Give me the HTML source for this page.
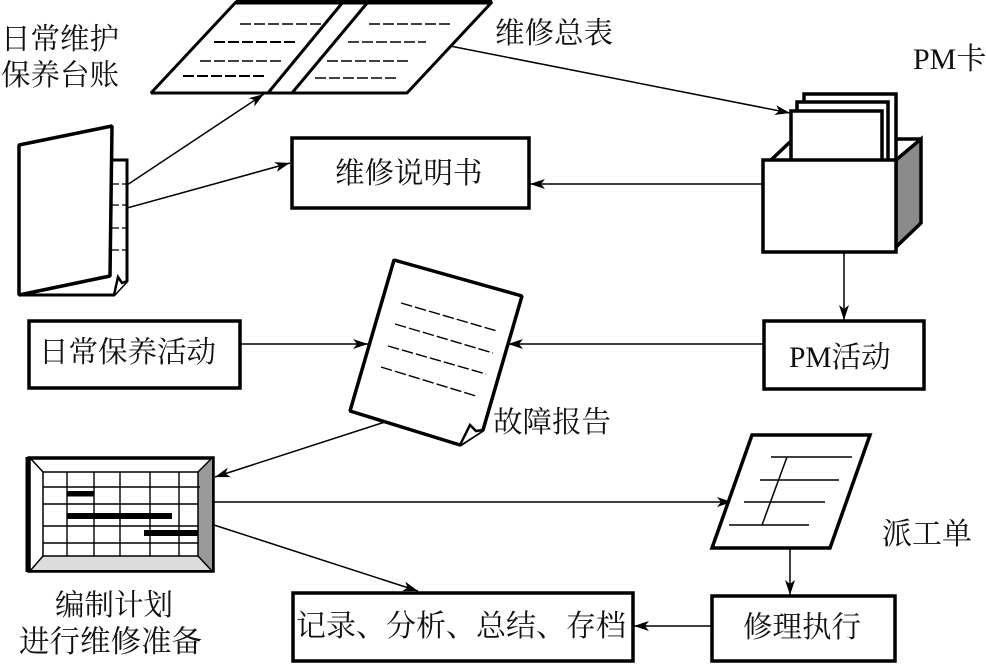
<!DOCTYPE html>
<html><head><meta charset="utf-8">
<style>
html,body{margin:0;padding:0;background:#fff;width:986px;height:664px;overflow:hidden}
svg{display:block}
text{font-family:"Liberation Serif","Noto Serif CJK SC",serif;font-size:29.5px;fill:#111}
</style></head><body>
<svg width="986" height="664" viewBox="0 0 986 664" xmlns="http://www.w3.org/2000/svg">
<defs>
<marker id="a" markerUnits="userSpaceOnUse" markerWidth="24" markerHeight="14" refX="20" refY="7" orient="auto" overflow="visible">
<path d="M20,7 L5,2 L9,7 L5,12 Z" fill="#000"/>
</marker>
</defs>
<rect width="986" height="664" fill="#fff"/>

<!-- connectors -->
<g stroke="#000" stroke-width="1.5" fill="none" marker-end="url(#a)">
<line x1="127" y1="185" x2="264" y2="94"/>
<line x1="127" y1="208" x2="290" y2="163"/>
<line x1="763" y1="184" x2="530" y2="184"/>
<line x1="450" y1="46" x2="790" y2="113"/>
<line x1="844" y1="252" x2="844" y2="320"/>
<line x1="240" y1="344" x2="368" y2="344"/>
<line x1="763" y1="344" x2="508" y2="344"/>
<line x1="385" y1="422" x2="215" y2="477"/>
<line x1="214" y1="502" x2="732" y2="502"/>
<line x1="214" y1="525" x2="418" y2="591"/>
<line x1="790" y1="548" x2="790" y2="595"/>
<line x1="712" y1="626" x2="634" y2="626"/>
</g>

<!-- ledger -->
<path d="M236,2 H492 L407,93 H151 Z" fill="#fff" stroke="#000" stroke-width="3" stroke-linejoin="bevel"/>
<path d="M236,2 H492" stroke="#000" stroke-width="5" fill="none"/>
<path d="M343,2 L268,93 M368,2 L292,93" stroke="#000" stroke-width="3" fill="none"/>
<g stroke="#000" stroke-width="1.4" stroke-dasharray="11 3" fill="none">
<path d="M240,24 H321 M200,61 H281 M369,24 H450 M348,42 H426 M327,61 H408 M315,78 H396"/>
</g>
<path d="M214,42 H295 M183,76 H264" stroke="#000" stroke-width="2" stroke-dasharray="11 3" fill="none"/>

<!-- folder -->
<path d="M112,160 H127 V281 L114,295 H19" fill="#fff" stroke="#000" stroke-width="3"/>
<path d="M19,145 L112,126 L110,276 L19,295 Z" fill="#fff" stroke="#000" stroke-width="3.5" stroke-linejoin="bevel"/>
<path d="M114,295 L118,277 L122,283 L127,281" fill="#fff" stroke="#000" stroke-width="2.5"/>
<path d="M112,184 H127 M112,205 H127 M112,228 H127 M112,250 H127" stroke="#000" stroke-width="1.2" stroke-dasharray="7 3" fill="none"/>

<!-- boxes -->
<g fill="#fff" stroke="#000" stroke-width="3.5">
<rect x="292" y="138" width="237" height="70"/>
<rect x="29" y="321" width="211" height="67"/>
<rect x="764" y="321" width="160" height="68"/>
<rect x="293" y="593" width="340" height="68"/>
<rect x="712" y="596" width="183" height="65"/>
</g>

<!-- PM box -->
<path d="M771,160 L790,142 M896,139 H921" stroke="#000" stroke-width="3.5" fill="none"/>
<rect x="804" y="94" width="92" height="70" fill="#fff" stroke="#000" stroke-width="3.5"/>
<rect x="797" y="102" width="91" height="62" fill="#fff" stroke="#000" stroke-width="3.5"/>
<rect x="791" y="111" width="91" height="53" fill="#fff" stroke="#000" stroke-width="3.5"/>
<path d="M896,160 L921,139 V223 L896,247 Z" fill="#8a8a8a" stroke="#000" stroke-width="3.5"/>
<rect x="763" y="160" width="133" height="92" fill="#fff" stroke="#000" stroke-width="3.5"/>

<!-- report -->
<path d="M394,260 L522,296 L483,430 L460,445 L350,411 Z" fill="#fff" stroke="#000" stroke-width="3.5" stroke-linejoin="bevel"/>
<path d="M460,445 L470,425 L476,431 L483,430" fill="#fff" stroke="#000" stroke-width="2.5"/>
<g stroke="#000" stroke-width="1.4" stroke-dasharray="11.5 3" fill="none">
<path d="M401,303 L497,331 M395,324 L493,353 M388,346 L486,374 M381,367 L476,396"/>
</g>

<!-- gantt -->
<rect x="29" y="458" width="184" height="113" fill="#fff" stroke="#000" stroke-width="3.5"/>
<path d="M198,472 L212,458 V571 L198,556 Z" fill="#9a9a9a"/>
<path d="M43,556 H198 L212,570 H30 Z" fill="#dcdcdc"/>
<path d="M30,458 L43,472 M212,458 L198,472 M30,571 L43,556 M212,571 L198,556" stroke="#000" stroke-width="1.5"/>
<rect x="43" y="472" width="155" height="84" fill="#fff" stroke="#000" stroke-width="1.5"/>
<path d="M67,472 V556 M94,472 V556 M120,472 V556 M150,472 V556 M179,472 V556 M43,487 H200 M43,504 H198 M43,526 H198 M43,543 H198" stroke="#000" stroke-width="1.4" fill="none"/>
<path d="M28,457 V572" stroke="#000" stroke-width="5"/>
<rect x="67" y="491" width="27" height="5.5" fill="#000"/>
<rect x="67" y="513" width="105" height="6" fill="#000"/>
<rect x="144" y="530" width="54" height="6" fill="#000"/>

<!-- work order -->
<path d="M752,435 H870 L830,548 H712 Z" fill="#fff" stroke="#000" stroke-width="3.5"/>
<path d="M771,457 H852 M760,480 H839 M744,502 H825 M729,525 H809 M787,457 L762,525" stroke="#000" stroke-width="1.5" fill="none"/>

<!-- labels -->
<text x="1" y="49">日常维护</text>
<text x="1" y="85">保养台账</text>
<text x="495" y="43">维修总表</text>
<text x="913" y="69" style="font-size:30px">PM卡</text>
<text x="335" y="183">维修说明书</text>
<text x="39" y="362">日常保养活动</text>
<text x="789" y="367" style="font-size:29.5px">PM活动</text>
<text x="493" y="432">故障报告</text>
<text x="882" y="544" style="font-size:30px">派工单</text>
<text x="55" y="615">编制计划</text>
<text x="19" y="652" style="font-size:30.5px">进行维修准备</text>
<text x="296" y="636" style="font-size:30px">记录、分析、总结、存档</text>
<text x="743" y="637">修理执行</text>
</svg>
</body></html>
